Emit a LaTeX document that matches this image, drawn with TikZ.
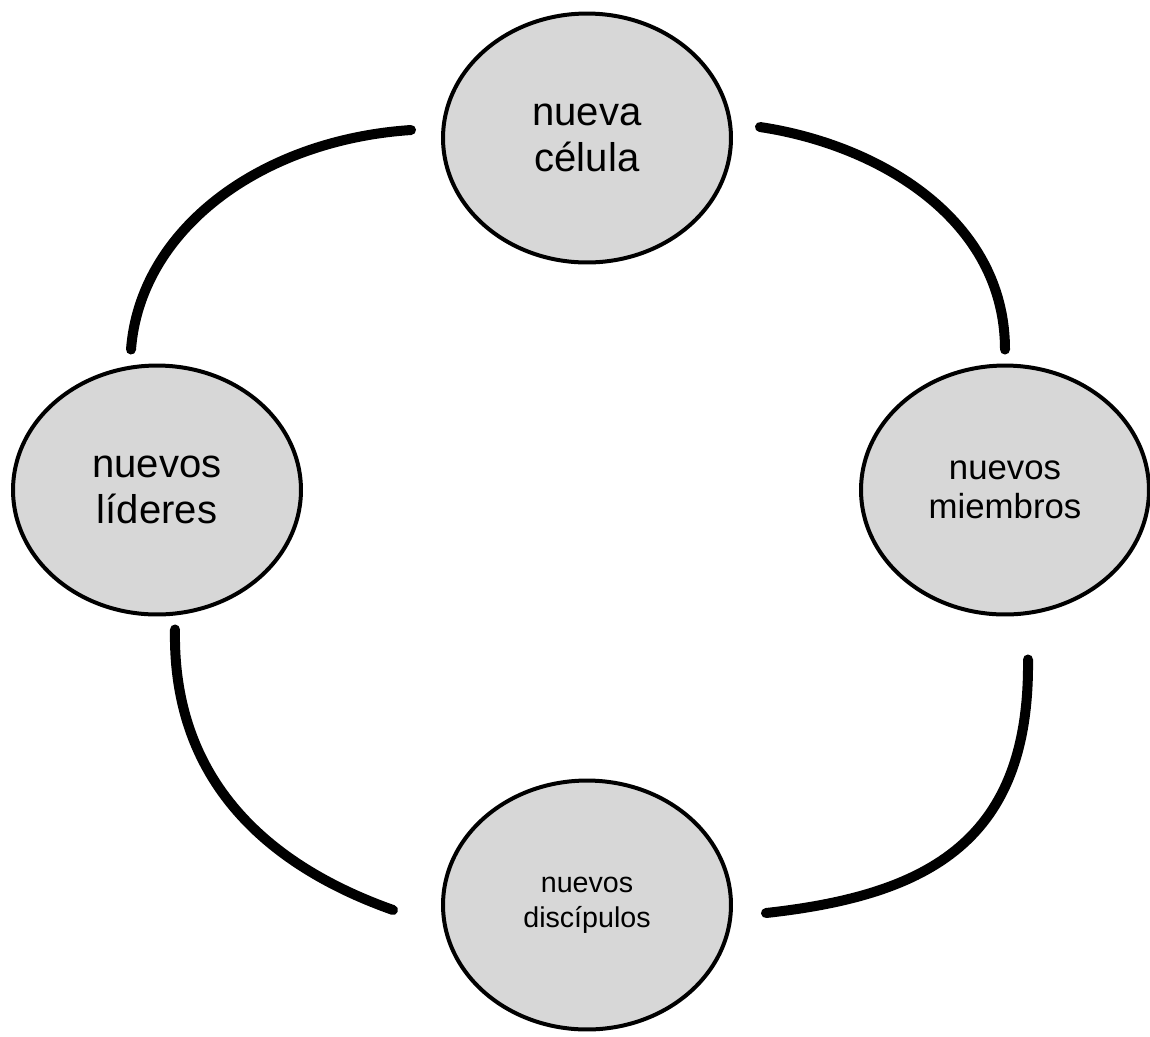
\documentclass[tikz,border=0pt]{standalone}
\usepackage{fontspec}
\setmainfont{Liberation Sans}
\usetikzlibrary{shapes.geometric}
\definecolor{cellgray}{RGB}{215,215,215}
\tikzset{
  cell/.style={ellipse, draw=black, line width=0.08cm, fill=cellgray,
    minimum width=5.76cm, minimum height=4.98cm, inner sep=0pt, align=center},
  bigtext/.style={font=\fontsize{22.8}{26}\selectfont},
  midtext/.style={font=\fontsize{19.8}{22.5}\selectfont},
  smalltext/.style={font=\fontsize{16.3}{20}\selectfont},
  link/.style={line width=0.2cm, line cap=round}
}
\begin{document}
\begin{tikzpicture}[x=0.02cm,y=-0.02cm]
\useasboundingbox (0,0) rectangle (1150,1036);

% Marking cell nueva celula
\node [cell, bigtext] (nueva) at (587,138) {nueva\\célula};

% Marking cell nuevos lideres
\node [cell, bigtext] (lideres) at (157,490) {nuevos\\líderes};

% Marking cell nuevos miembros
\node [cell, midtext] (miembros) at (1005,490) {nuevos\\miembros};

% Marking cell nuevos discipulos
\node [cell, smalltext] (discipulos) at (587,905) {nuevos\\discípulos};

% Drawing arc nueva -- lideres
\draw [link] ([shift={(-30,-8)}]nueva.west) .. controls (260,140) and (140,230) .. ([shift={(-26,-14)}]lideres.north);

% Drawing arc nueva -- miembros
\draw [link] ([shift={(27,-11)}]nueva.east) .. controls (880,145) and (1005,220) .. ([shift={(0,-14)}]miembros.north);

% Drawing arc miembros -- discipulos
\draw [link] ([shift={(23,43)}]miembros.south) .. controls (1030,840) and (930,895) .. ([shift={(33,8)}]discipulos.east);

% Drawing arc lideres -- discipulos
\draw [link] ([shift={(18,13)}]lideres.south) .. controls (172,790) and (280,870) .. ([shift={(-48,5)}]discipulos.west);
\end{tikzpicture}
\end{document}
